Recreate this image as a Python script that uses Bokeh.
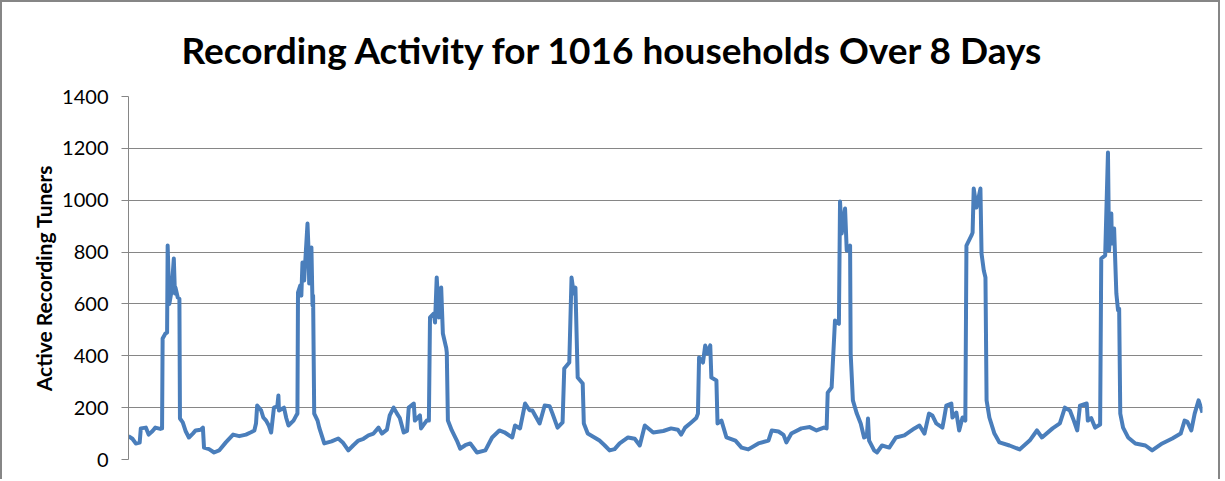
from bokeh.plotting import figure
from bokeh.models import Range1d, Title, FixedTicker
from bokeh.embed import file_html
from bokeh.resources import INLINE

# Hours since the start of the 8-day window
hours = [
    0.0, 0.7, 1.3, 2.0, 2.2, 3.1, 3.6, 4.3, 4.8, 5.7, 6.0, 6.1, 6.6, 6.9, 7.0, 7.3,
    7.7, 8.1, 8.3, 8.4, 8.8, 9.1, 9.2, 9.7, 10.2, 10.8, 11.5, 12.0, 12.9, 13.3, 13.5,
    14.4, 15.3, 16.2, 17.4, 18.7, 19.8, 21.0, 21.9, 22.5, 22.8, 23.0, 23.7, 24.1,
    24.6, 25.1, 25.5, 26.0, 26.6, 26.8, 26.9, 27.8, 28.2, 28.6, 29.5, 30.0, 30.2,
    30.3, 30.7, 30.9, 31.1, 31.4, 32.0, 32.2, 32.3, 32.7, 32.9, 33.0, 33.2, 33.8,
    34.1, 35.0, 36.3, 37.5, 38.3, 39.3, 40.2, 41.1, 42.0, 42.9, 43.8, 44.7, 45.3,
    46.2, 46.7, 47.4, 48.0, 48.5,
    49.2, 49.8, 50.1, 51.0, 51.2, 52.1, 52.3, 53.3, 53.7, 53.9, 54.6, 54.8, 55.1,
    55.5, 55.9, 56.2, 56.8, 56.9, 57.1, 57.8, 58.7, 59.3, 60.2, 61.1, 62.3, 63.8,
    65.0, 66.3, 67.2, 68.6, 69.1, 70.0, 70.9, 71.7, 72.2,
    73.5, 74.4, 75.3, 75.8, 76.7, 77.6, 77.9, 78.8, 79.2, 79.6, 79.9, 80.3, 81.2,
    81.4, 82.1, 83.3, 84.2, 85.1, 86.0, 86.9, 87.8, 89.3, 90.5, 91.4, 92.3, 93.8,
    95.6, 97.0,
    98.2, 98.8, 99.5, 100.6, 101.5, 101.8, 102.0, 102.7, 103.1, 103.5, 104.0, 104.2,
    105.1, 105.3, 106.0, 106.9, 108.5, 109.6, 110.8, 112.6, 114.4, 115.0, 116.2,
    117.1, 117.6, 118.5, 120.3, 121.8,
    123.0, 124.3, 124.8, 125.0, 125.7, 126.3, 127.0, 127.2, 127.5, 128.1, 128.4,
    129.0, 129.1, 129.5, 130.2, 130.9, 131.5, 132.0, 132.2, 132.4, 133.3, 133.8,
    134.7, 136.0, 137.2, 138.7, 140.5, 141.4, 142.3, 143.1, 143.7, 144.4, 145.5,
    145.8, 146.2, 147.1, 147.3, 148.0, 148.5, 149.1, 149.6, 149.8, 150.7, 150.9,
    151.1, 151.6, 152.3, 152.5, 152.9, 153.2, 153.4, 153.9, 154.8, 155.7, 157.5,
    159.3, 161.1, 162.4, 163.3, 165.2, 166.5, 167.4, 168.3, 169.0, 169.6,
    170.1, 171.3, 171.5, 172.1, 172.8, 173.7, 173.9, 174.6, 175.1, 175.3, 175.7,
    175.8, 176.2, 176.6, 176.9, 177.1, 177.3, 177.8, 178.7, 180.0, 181.8, 183.0,
    184.8, 186.6, 188.1, 188.8, 189.3, 190.0, 190.6, 191.3, 192.0,
]

# Number of tuners recording at each of those times
tuners = [
    90, 80, 62, 65, 120, 123, 96, 110, 123, 118, 120, 467, 486, 490, 825, 600,
    650, 775, 640, 663, 625, 620, 158, 143, 110, 85, 100, 112, 115, 123, 46,
    40, 27, 35, 66, 96, 90, 96, 105, 112, 140, 208, 190, 162,
    150, 130, 104, 200, 205, 247, 189, 200, 160, 131, 150, 170, 177,
    644, 671, 632, 760, 690, 910, 800, 679, 818, 594, 632, 177, 150,
    123, 62, 70, 81, 66, 35, 55, 73, 80, 93, 100, 123, 100,
    115, 170, 200, 177, 160,
    104, 110, 200, 216, 150, 170, 120, 150, 150, 548, 563, 528, 702,
    548, 663, 486, 430, 413, 150, 112, 73, 42, 55, 62, 27, 35,
    85, 112, 105, 85, 131, 120, 216, 190, 189,
    139, 208, 205, 177, 123, 143, 351, 374, 702, 640, 663, 316, 293,
    139, 100, 85, 73, 55, 35, 40, 62, 85, 80, 54, 131, 104,
    110, 120,
    115, 96, 123, 143, 160, 177, 393, 374, 440, 409, 440, 316,
    305, 139, 150, 85, 73, 46, 39, 62, 73, 112, 108,
    95, 66, 100, 120, 125,
    112, 123, 120, 258, 278, 536, 524, 995, 872, 968, 806,
    825, 409, 228, 177, 139, 85, 90, 158, 73, 35, 27,
    54, 46, 85, 93, 120, 131, 100, 177, 170, 139, 123,
    158, 208, 216, 162, 181, 112, 162, 150, 825, 864, 875,
    1045, 972, 1045, 794, 729, 702, 228, 162, 100, 66, 54,
    39, 73, 112, 85, 120, 139, 200, 189, 150, 112,
    208, 216, 150, 160, 123, 135, 775, 787, 1184, 806, 949,
    833, 891, 640, 575, 582, 177, 123, 85, 62, 54, 35,
    62, 81, 100, 150, 145, 112, 177, 228, 181,
]

y_ticks = [0, 200, 400, 600, 800, 1000, 1200, 1400]

chart_title = "Recording Activity for 1016 households Over 8 Days"
y_title = "Active Recording Tuners"

GRID = "#868686"
LINE = "#4a7ebb"

p = figure(
    width=1220, height=479,
    output_backend="svg", toolbar_location=None,
    x_range=Range1d(0, 192), y_range=Range1d(0, 1400),
    min_border_left=126, min_border_right=20,
    min_border_top=94, min_border_bottom=22,
    styles={
        "border-top": f"2px solid {GRID}",
        "border-left": f"2px solid {GRID}",
        "border-right": f"2px solid {GRID}",
    },
)
p.outline_line_color = None
p.background_fill_color = "white"
p.border_fill_color = "white"

p.xaxis.visible = False
p.xgrid.grid_line_color = None

p.yaxis.ticker = FixedTicker(ticks=y_ticks)
p.yaxis.axis_line_color = GRID
p.yaxis.major_tick_line_color = GRID
p.yaxis.major_tick_out = 7
p.yaxis.major_tick_in = 0
p.yaxis.minor_tick_line_color = None
p.yaxis.major_label_standoff = 13
p.yaxis.major_label_text_font = "Lato"
p.yaxis.major_label_text_font_size = "20px"
p.yaxis.major_label_text_color = "#000000"
p.yaxis.axis_label = y_title
p.yaxis.axis_label_text_font = "Lato"
p.yaxis.axis_label_text_font_style = "bold"
p.yaxis.axis_label_text_font_size = "21px"
p.yaxis.axis_label_text_color = "#000000"
p.yaxis.axis_label_standoff = 3

p.ygrid.ticker = FixedTicker(ticks=y_ticks)
p.ygrid.grid_line_color = GRID
p.ygrid.grid_line_width = 1

p.line(hours, tuners, line_color=LINE, line_width=4, line_join="round")

p.add_layout(Title(
    text=chart_title, align="left", offset=53, vertical_align="top", standoff=46,
    text_font="Lato", text_font_style="bold", text_font_size="37px",
    text_color="#000000",
), "above")

open("out.html", "w").write(file_html(p, INLINE))
